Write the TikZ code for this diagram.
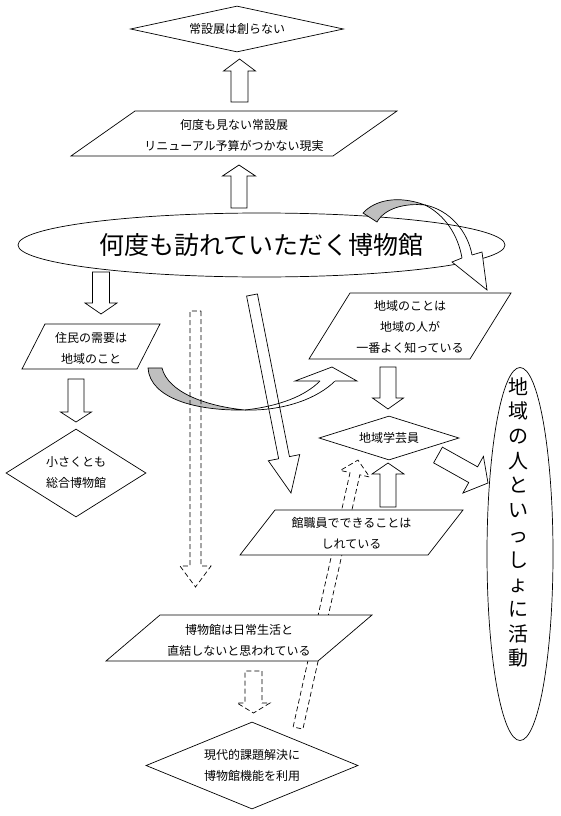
\documentclass[tikz,border=0pt]{standalone}
\usepackage{fontspec}
\newfontfamily\cjk{Noto Sans CJK JP}
\usetikzlibrary{shapes.geometric}
\newcommand\barrow[8]{\begin{scope}[shift={(#2,#3)},rotate=#4]\path[#1] (0,-#6) -- ({#5-#8},-#6) -- ({#5-#8},-#7) -- (#5,0) -- ({#5-#8},#7) -- ({#5-#8},#6) -- (0,#6) -- cycle;\end{scope}}
\begin{document}
\begin{tikzpicture}[x=1pt,y=-1pt,line width=0.7pt,
  txt/.style={font=\cjk\fontsize{12}{21}\selectfont,align=center,inner sep=0pt},
  shp/.style={draw=black,fill=white,line width=0.7pt},
  blk/.style={draw=black,fill=white,line width=0.7pt,line join=miter},
  dsh/.style={draw=black,dash pattern=on 5pt off 3pt,line width=0.7pt},
  grayband/.style={draw=black,fill=black!25,line width=0.7pt},
  dia/.style={shp,diamond,inner sep=0pt,font=\cjk\fontsize{12}{21}\selectfont,align=center},
]
\useasboundingbox (0,0) rectangle (560,816);
\fill[white] (0,0) rectangle (560,816);

% big ellipse
\node[shp,ellipse,minimum width=487pt,minimum height=64pt,inner sep=0pt,font=\cjk\fontsize{25}{30}\selectfont] (visit) at (261.5,245) {何度も訪れていただく博物館};

% top part
\barrow{blk}{239.5}{102}{90}{43}{8.5}{16}{12}
\barrow{blk}{239}{208}{90}{43}{8}{16.5}{11}
\node[dia,aspect=4.6,minimum width=213pt,minimum height=46pt] (noperm) at (237,29) {常設展は創らない};
\draw[shp] (135,111) -- (397,111) -- (333,156) -- (71,156) -- cycle;
\node[txt] (perm) at (234,135) {何度も見ない常設展\\リニューアル予算がつかない現実};

% long diagonal arrow
\barrow{blk}{252}{295}{-78.86}{201.8}{5.5}{16}{36}
% dashed diagonal up arrow
\barrow{dsh}{298}{728}{77.38}{274.6}{5}{15}{14}

% left column
\barrow{blk}{101}{272}{-90}{42}{8.5}{16}{11}
\draw[shp] (45,324) -- (160,324) -- (137,369) -- (22,369) -- cycle;
\node[txt] (need) at (91,348) {住民の需要は\\地域のこと};
\barrow{blk}{76}{379}{-90}{43}{8}{15.5}{10}
\node[dia,aspect=1.6,minimum width=140pt,minimum height=88pt] (small) at (76,473) {小さくとも\\総合博物館};

% right column
\draw[shp] (350,293) -- (511,293) -- (470,359) -- (309,359) -- cycle;
\node[txt] (know) at (410,327) {地域のことは\\地域の人が\\一番よく知っている};
\barrow{blk}{388}{367}{-90}{42}{8}{15.5}{11}
\node[dia,aspect=3.2,minimum width=140pt,minimum height=44pt] (cur) at (389,438) {地域学芸員};
\barrow{blk}{388}{507}{90}{44}{8}{16}{11}
\draw[shp] (275,510) -- (463,510) -- (428,555) -- (240,555) -- cycle;
\node[txt] (staff) at (351.5,533) {館職員でできることは\\しれている};
\barrow{blk}{438}{455}{-29.25}{57.3}{9}{21}{17}

% right ellipse
\node[shp,ellipse,minimum width=66pt,minimum height=373pt,inner sep=0pt] (together) at (520,554) {};
\node[font=\cjk\fontsize{20}{24.7}\selectfont,align=center,inner sep=0pt,anchor=north] (togethertxt) at (518,377) {地\\域\\の\\人\\と\\い\\っ\\し\\ょ\\に\\活\\動};

% bottom part
\draw[shp] (160,615) -- (372,615) -- (318,661) -- (106,661) -- cycle;
\node[txt] (daily) at (239,640) {博物館は日常生活と\\直結しないと思われている};
\barrow{dsh}{253.5}{671}{-90}{42}{8.5}{16.5}{10}
\node[dia,aspect=2.5,minimum width=212pt,minimum height=87pt] (modern) at (252,765.5) {現代的課題解決に\\博物館機能を利用};

% curved arrow 1 (left -> right)
\path[grayband] (148,368) -- (162,368) .. controls (168,392) and (205,406) .. (245,410) .. controls (195,411) and (150,398) .. (148,368) -- cycle;
\draw (245,410) .. controls (280,406) and (305,396) .. (320,381);
\draw (245,410) .. controls (285,411) and (318,398) .. (335,381);
\draw[fill=white,line join=miter] (320,381) -- (295,381) -- (332,367) -- (357,381) -- (335,381);

% dashed vertical arrow
\barrow{dsh}{195.5}{311}{-90}{276}{5.5}{15.5}{21}

% curved arrow 2 (top right)
\path[grayband] (363,213) .. controls (375,200) and (398,195) .. (425,205) .. controls (405,203) and (385,208) .. (377,222) -- cycle;
\draw (425,205) .. controls (445,215) and (458,235) .. (462,258);
\draw (425,205) .. controls (450,210) and (468,232) .. (472,255);
\draw[fill=white,line join=miter] (462,258) -- (452,262) -- (487,290) -- (482,252) -- (472,255);
\end{tikzpicture}
\end{document}
